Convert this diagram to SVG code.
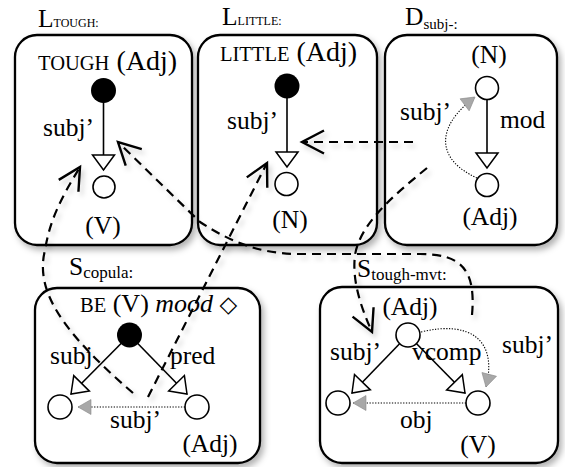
<svg xmlns="http://www.w3.org/2000/svg" width="565" height="467" viewBox="0 0 565 467">
<style>
.box{fill:#fff;stroke:#000;stroke-width:2.3}
.t{font-family:"Liberation Serif","Times New Roman",serif;fill:#000;font-size:25.5px}
.edge{stroke:#000;stroke-width:1.6;fill:none}
.dot{stroke:#000;stroke-width:1.1;stroke-dasharray:1.3 1.5;fill:none}
.dash{stroke:#000;stroke-width:2.2;stroke-dasharray:9 6;fill:none}
.open{fill:#fff;stroke:#000;stroke-width:1.6}
.filled{fill:#000}
.sc{font-size:20.5px}
.sym{font-family:"DejaVu Sans",sans-serif;font-size:23px}
</style>
<defs>
<filter id="sh" x="-15%" y="-15%" width="140%" height="140%">
<feDropShadow dx="3" dy="4" stdDeviation="3" flood-color="#000" flood-opacity="0.3"/>
</filter>
<filter id="sh2" x="-15%" y="-15%" width="140%" height="140%">
<feDropShadow dx="3" dy="4" stdDeviation="2.5" flood-color="#000" flood-opacity="0.18"/>
</filter>
<marker id="tri" markerUnits="userSpaceOnUse" markerWidth="18" markerHeight="24" refX="16" refY="11" orient="auto" overflow="visible">
<path d="M1,0 L16,11 L1,22 Z" fill="#fff" stroke="#000" stroke-width="1.5" stroke-dasharray="none"/>
</marker>
<marker id="gray" markerUnits="userSpaceOnUse" markerWidth="16" markerHeight="16" refX="13" refY="7.5" orient="auto" overflow="visible">
<path d="M0,0 L13,7.5 L0,15 Z" fill="#a8a8a8" stroke="#8a8a8a" stroke-width="0.6" stroke-dasharray="none"/>
</marker>
<marker id="vee" markerUnits="userSpaceOnUse" markerWidth="28" markerHeight="28" refX="24" refY="13" orient="auto" overflow="visible">
<path d="M2,1.5 L24,13 L2,24.5" fill="none" stroke="#000" stroke-width="2.4" stroke-dasharray="none"/>
</marker>
</defs>
<rect width="565" height="467" fill="#fff"/>

<g id="L_TOUGH">
<rect class="box" x="15" y="35" width="177" height="210" rx="22" filter="url(#sh)"/>
<text class="t" x="38" y="27" font-size="26">L<tspan font-size="12">TOUGH:</tspan></text>
<text class="t" x="38" y="70" style="font-size:28px"><tspan class="sc">TOUGH</tspan> (Adj)</text>
<line class="edge" x1="103.5" y1="100" x2="103.5" y2="170" marker-end="url(#tri)"/>
<circle class="filled" cx="103.5" cy="90.5" r="12.5"/>
<circle class="open" cx="104" cy="187" r="11"/>
<text class="t" x="43" y="136">subj’</text>
<text class="t" x="103" y="234" text-anchor="middle">(V)</text>
</g>

<g id="L_LITTLE">
<rect class="box" x="198" y="35" width="179" height="210" rx="22" filter="url(#sh)"/>
<text class="t" x="222" y="25" font-size="26">L<tspan font-size="12">LITTLE:</tspan></text>
<text class="t" x="220" y="61" style="font-size:28px"><tspan class="sc">LITTLE</tspan> (Adj)</text>
<line class="edge" x1="287" y1="96" x2="287" y2="167" marker-end="url(#tri)"/>
<circle class="filled" cx="287" cy="86" r="12.5"/>
<circle class="open" cx="286.5" cy="184" r="11.5"/>
<text class="t" x="227" y="129">subj’</text>
<text class="t" x="290" y="228" text-anchor="middle">(N)</text>
</g>

<g id="D_subj">
<rect class="box" x="385" y="35" width="172" height="210" rx="22" filter="url(#sh)"/>
<text class="t" x="405" y="25" font-size="26">D<tspan font-size="15" dy="4">subj-:</tspan></text>
<text class="t" x="489" y="63" text-anchor="middle">(N)</text>
<line class="edge" x1="487" y1="100" x2="487" y2="168" marker-end="url(#tri)"/>
<circle class="open" cx="487" cy="88" r="11.5"/>
<circle class="open" cx="487" cy="185" r="11.5"/>
<text class="t" x="500" y="128">mod</text>
<text class="t" x="400" y="120">subj’</text>
<path class="dot" d="M477,178 C437,160 434,128 475,97" marker-end="url(#gray)"/>
<text class="t" x="490" y="225" text-anchor="middle">(Adj)</text>
</g>

<g id="S_copula">
<rect class="box" x="35" y="288" width="225" height="175" rx="22" filter="url(#sh)"/>
<text class="t" x="69" y="275" font-size="26">S<tspan font-size="17" dy="3">copula:</tspan></text>
<text class="t" x="80" y="312" style="font-size:26px"><tspan class="sc">BE</tspan> (V) <tspan font-style="italic">mood</tspan> <tspan class="sym">◇&#xFE0E;</tspan></text>
<line class="edge" x1="129.5" y1="335" x2="71" y2="394" marker-end="url(#tri)"/>
<line class="edge" x1="129.5" y1="335" x2="187" y2="394" marker-end="url(#tri)"/>
<circle class="filled" cx="129.5" cy="335" r="12.5"/>
<circle class="open" cx="60" cy="407" r="12"/>
<circle class="open" cx="197" cy="407" r="12"/>
<path class="dot" d="M185,407 L78,407" marker-end="url(#gray)"/>
<text class="t" x="50" y="364">subj</text>
<text class="t" x="170" y="364">pred</text>
<text class="t" x="110" y="428">subj’</text>
<text class="t" x="210" y="452" text-anchor="middle">(Adj)</text>
</g>

<g id="S_tough_mvt">
<rect class="box" x="320" y="287" width="238" height="176" rx="22" filter="url(#sh)"/>
<text class="t" x="357" y="277" font-size="26">S<tspan font-size="17" dy="3">tough-mvt:</tspan></text>
<text class="t" x="410" y="315" text-anchor="middle">(Adj)</text>
<line class="edge" x1="408" y1="335" x2="352" y2="393" marker-end="url(#tri)"/>
<line class="edge" x1="408" y1="335" x2="465" y2="393" marker-end="url(#tri)"/>
<circle class="open" cx="408" cy="335" r="12"/>
<circle class="open" cx="338" cy="403" r="12"/>
<circle class="open" cx="478" cy="403" r="12"/>
<path class="dot" d="M421,332 C470,320 498,340 486,387" marker-end="url(#gray)"/>
<path class="dot" d="M466,403 L353,403" marker-end="url(#gray)"/>
<text class="t" x="330" y="360">subj’</text>
<text class="t" x="412" y="360">vcomp</text>
<text class="t" x="502" y="353">subj’</text>
<text class="t" x="400" y="428">obj</text>
<text class="t" x="478" y="453" text-anchor="middle">(V)</text>
</g>

<g id="connectors" filter="url(#sh2)">
<path class="dash" d="M133,393 C60,330 35,290 45,250 C50,220 60,200 80,167" marker-end="url(#vee)"/>
<path class="dash" d="M148,397 L267,163" marker-end="url(#vee)"/>
<path class="dash" d="M413,142 L302,142" marker-end="url(#vee)"/>
<path class="dash" d="M427,168 C390,198 360,225 355,255 C352,280 360,305 372,332" marker-end="url(#vee)"/>
<path class="dash" d="M472,315 C476,270 462,254 420,254 L300,254 C265,254 235,245 200,222 L118,142" marker-end="url(#vee)"/>
</g>
</svg>
